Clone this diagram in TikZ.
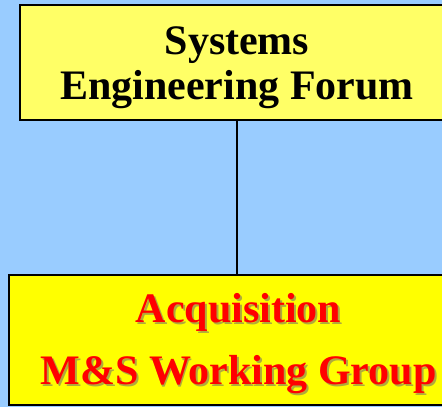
\documentclass[tikz,border=0pt]{standalone}
\usepackage{fontspec}
\setmainfont{Liberation Serif}
\definecolor{bgblue}{HTML}{99CCFF}
\definecolor{paleyellow}{HTML}{FFFF66}
\definecolor{brightyellow}{HTML}{FFFF00}
\definecolor{textred}{HTML}{FF0000}
\definecolor{shadowcol}{RGB}{175,170,60}
\newcommand{\shtext}[1]{\rlap{\hspace{2pt}\raisebox{-2pt}{\textcolor{shadowcol}{#1}}}#1}
\tikzset{
  boxstyle/.style={draw=black, line width=1.5pt, inner sep=0pt},
  titletext/.style={font=\bfseries\fontsize{42}{48}\selectfont, anchor=base, inner sep=0pt},
  redtext/.style={titletext, text=textred},
  linkline/.style={draw=black, line width=1.5pt}
}
\begin{document}
\begin{tikzpicture}[x=1pt,y=1pt]
\useasboundingbox (0,0) rectangle (442,407);
\fill[bgblue] (0,0) rectangle (442,407);
% boxes
\node[boxstyle, fill=paleyellow, minimum width=434pt, minimum height=115pt] (forum) at (237,344.5) {};
\node[boxstyle, fill=brightyellow, minimum width=457pt, minimum height=130pt] (group) at (237.5,67) {};
\draw[linkline] (forum.south -| 237,0) -- (group.north -| 237,0);
% top texts
\node[titletext] (t1) at (237,352.5) {Systems};
\node[titletext] (t2) at (237,307.8) {Engineering Forum};
% bottom texts with shadow
\node[redtext] (b1) at (238.5,84.3) {\shtext{Acquisition}};
\node[redtext] (b2) at (238.5,22) {\shtext{M\&S Working Group}};
\end{tikzpicture}
\end{document}
